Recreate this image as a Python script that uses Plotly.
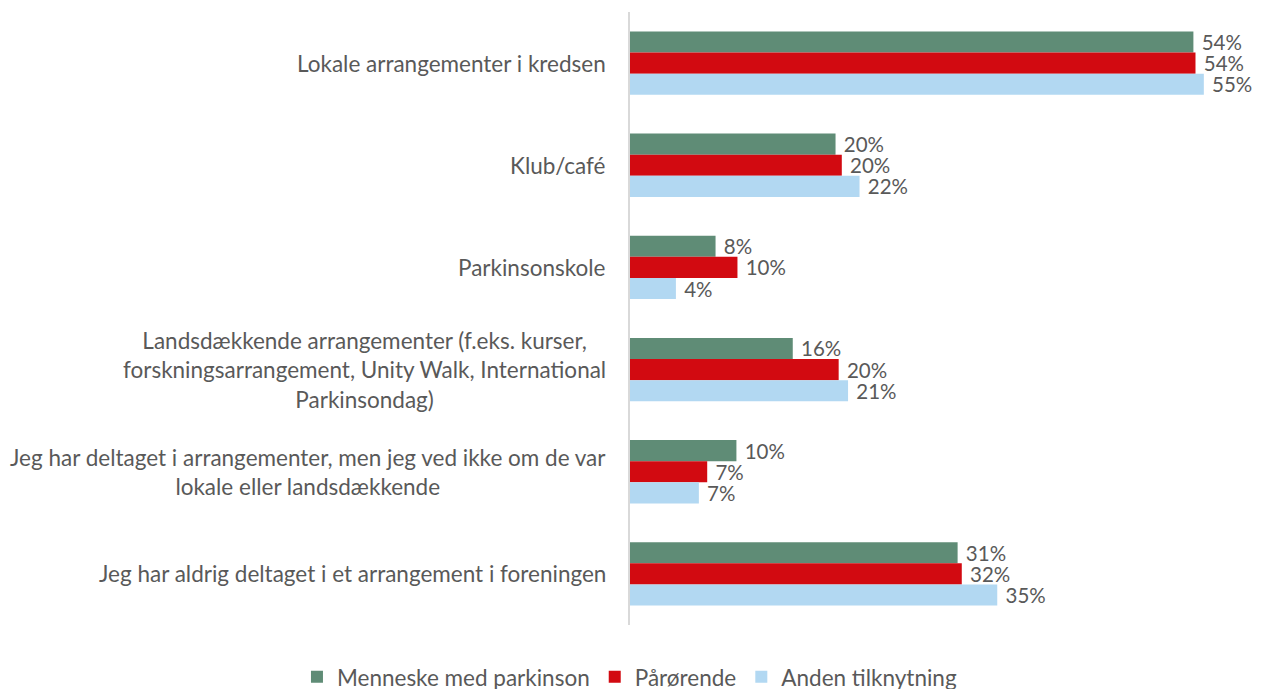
import plotly.graph_objects as go

categories = [
    "Lokale arrangementer i kredsen",
    "Klub/café",
    "Parkinsonskole",
    "Landsdækkende arrangementer (f.eks. kurser,<br>forskningsarrangement, Unity Walk, International<br>Parkinsondag)",
    "Jeg har deltaget i arrangementer, men jeg ved ikke om de var<br>lokale eller landsdækkende",
    "Jeg har aldrig deltaget i et arrangement i foreningen",
]
series_names = ["Menneske med parkinson", "Pårørende", "Anden tilknytning"]
menneske = [54.0, 19.7, 8.2, 15.6, 10.2, 31.4]
paaroerende = [54.2, 20.3, 10.3, 20.0, 7.4, 31.8]
anden = [55.0, 22.0, 4.4, 20.9, 6.6, 35.2]
colors = ["#5f8c76", "#d20a11", "#b2d8f2"]

font_family = "Lato, 'Open Sans', sans-serif"
text_color = "#595959"

fig = go.Figure()
for name, vals, col in zip(series_names, [menneske, paaroerende, anden], colors):
    fig.add_trace(go.Bar(
        y=categories, x=vals, name=name, orientation="h",
        marker=dict(color=col, line=dict(width=0)),
        text=[f"\u00a0{round(v):d}%" for v in vals],
        textposition="outside", cliponaxis=False, constraintext="none",
        textfont=dict(size=20.5, color=text_color, family=font_family),
    ))

for c in categories:
    fig.add_annotation(
        x=0, y=c, xref="paper", yref="y", xanchor="right", yanchor="middle",
        xshift=-22, text=c, showarrow=False, align="center",
        font=dict(size=22.5, color=text_color, family=font_family),
    )

fig.update_layout(
    width=1265, height=689,
    margin=dict(l=622, r=17, t=4, b=72, autoexpand=False),
    barmode="group", bargap=0.38, bargroupgap=0,
    plot_bgcolor="white", paper_bgcolor="white",
    font=dict(family=font_family, color=text_color),
    xaxis=dict(range=[0, 60], showgrid=False, showticklabels=False, zeroline=False, showline=False),
    yaxis=dict(autorange="reversed", showticklabels=False, showgrid=False,
               showline=True, linecolor="#d9d9d9", linewidth=1.5, ticks=""),
    legend=dict(orientation="h", xref="paper", yref="paper", x=-0.532, xanchor="left",
                y=-0.085, yanchor="middle", bgcolor="rgba(0,0,0,0)",
                font=dict(size=22.5, color=text_color, family=font_family),
                itemwidth=30, traceorder="normal"),
    showlegend=True,
)

fig.write_html("out.html")
